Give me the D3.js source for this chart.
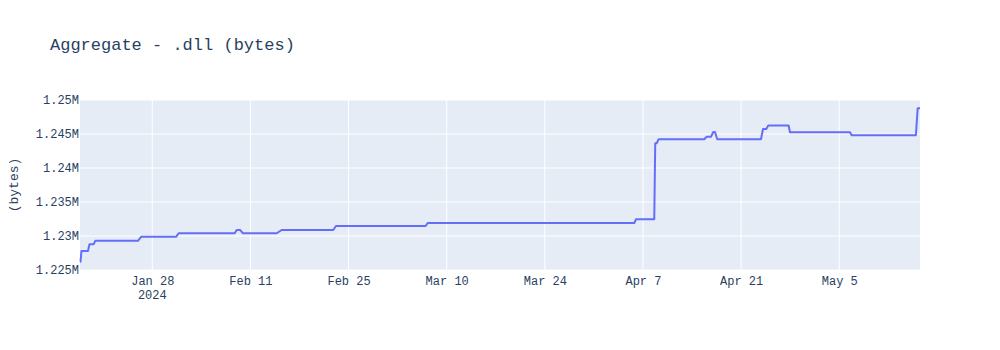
<!DOCTYPE html>
<html>
<head>
<meta charset="utf-8">
<script src="https://cdn.jsdelivr.net/npm/d3@7"></script>
<style>
  body { margin: 0; background: #fff; }
  text { font-family: "Liberation Mono", "Courier New", monospace; fill: #2a3f5f; }
</style>
</head>
<body>
<div id="chart"></div>
<script>
// Data: each flat stretch has a start and end point
const dates = [
    "2024-01-17T16:30", "2024-01-17T18:15", "2024-01-17T21:30", "2024-01-18T19:50",
    "2024-01-19T01:00", "2024-01-19T15:20", "2024-01-19T21:00", "2024-01-25T23:00",
    "2024-01-26T10:20", "2024-01-31T10:10", "2024-01-31T18:25", "2024-02-08T18:00",
    "2024-02-09T01:00", "2024-02-09T13:15", "2024-02-09T22:30", "2024-02-14T18:00",
    "2024-02-15T11:00", "2024-02-22T19:40", "2024-02-23T04:50", "2024-03-07T00:00",
    "2024-03-07T07:00", "2024-04-05T18:15", "2024-04-06T00:00", "2024-04-08T14:40",
    "2024-04-08T18:00", "2024-04-08T22:50", "2024-04-09T05:45", "2024-04-15T17:45",
    "2024-04-16T02:10", "2024-04-16T16:50", "2024-04-17T00:45", "2024-04-17T06:30",
    "2024-04-17T14:25", "2024-04-23T20:00", "2024-04-24T03:00", "2024-04-24T14:10",
    "2024-04-24T21:00", "2024-04-27T18:45", "2024-04-27T23:15", "2024-05-06T12:45",
    "2024-05-06T18:30", "2024-05-15T22:30", "2024-05-16T04:30", "2024-05-16T12:30"
];
const bytes = [
    1226220, 1226220, 1227800, 1227800,
    1228800, 1228800, 1229300, 1229300,
    1229900, 1229900, 1230400, 1230400,
    1230880, 1230880, 1230400, 1230400,
    1230880, 1230880, 1231470, 1231470,
    1231910, 1231910, 1232450, 1232450,
    1243630, 1243630, 1244220, 1244220,
    1244600, 1244600, 1245290, 1245290,
    1244220, 1244220, 1245730, 1245730,
    1246250, 1246250, 1245250, 1245250,
    1244810, 1244810, 1248770, 1248770
];
const yTicks = [1225000, 1230000, 1235000, 1240000, 1245000, 1250000];
const yTickLabels = ["1.225M", "1.23M", "1.235M", "1.24M", "1.245M", "1.25M"];
const xTicks = ["2024-01-28", "2024-02-11", "2024-02-25", "2024-03-10",
                "2024-03-24", "2024-04-07", "2024-04-21", "2024-05-05"];

const parseDate = d3.utcParse("%Y-%m-%dT%H:%M");
const parseDay = d3.utcParse("%Y-%m-%d");
const data = dates.map((d, i) => ({date: parseDate(d), value: bytes[i]}));

const margin = {top: 100, right: 80, bottom: 80, left: 80};
const width = 1000, height = 350;
const innerW = width - margin.left - margin.right;
const innerH = height - margin.top - margin.bottom;

const svg = d3.select("#chart")
    .append("svg")
    .attr("width", width)
    .attr("height", height);

// Title
svg.append("text")
    .attr("x", 50)
    .attr("y", 50)
    .attr("font-size", "17px")
    .text("Aggregate - .dll (bytes)");

const g = svg.append("g")
    .attr("transform", `translate(${margin.left},${margin.top})`);

const x = d3.scaleUtc()
    .domain(d3.extent(data, d => d.date))
    .range([0, innerW]);

const y = d3.scaleLinear()
    .domain([1225000, 1250000])
    .range([innerH, 0]);

// Plot background
g.append("rect")
    .attr("width", innerW)
    .attr("height", innerH)
    .attr("fill", "#e5ecf6");

// Gridlines
g.selectAll(".ygrid")
    .data(yTicks)
    .join("line")
    .attr("x1", 0)
    .attr("x2", innerW)
    .attr("y1", d => y(d))
    .attr("y2", d => y(d))
    .attr("stroke", "white")
    .attr("stroke-width", 1);

g.selectAll(".xgrid")
    .data(xTicks.map(parseDay))
    .join("line")
    .attr("x1", d => x(d))
    .attr("x2", d => x(d))
    .attr("y1", 0)
    .attr("y2", innerH)
    .attr("stroke", "white")
    .attr("stroke-width", 1);

// Y axis labels
const yAxis = g.append("g")
    .call(d3.axisLeft(y).tickValues(yTicks)
        .tickFormat((d, i) => yTickLabels[i])
        .tickSize(0).tickPadding(1));
yAxis.select(".domain").remove();
yAxis.selectAll("text")
    .attr("font-size", "12px")
    .attr("font-family", "Liberation Mono, Courier New, monospace")
    .attr("fill", "#2a3f5f");

// X axis labels
const fmt = d3.utcFormat("%b %-d");
const xAxis = g.append("g")
    .attr("transform", `translate(0,${innerH})`)
    .call(d3.axisBottom(x).tickValues(xTicks.map(parseDay))
        .tickFormat(fmt).tickSize(0).tickPadding(6));
xAxis.select(".domain").remove();
xAxis.selectAll("text")
    .attr("font-size", "12px")
    .attr("font-family", "Liberation Mono, Courier New, monospace")
    .attr("fill", "#2a3f5f");

// Year under the first tick
g.append("text")
    .attr("x", x(parseDay(xTicks[0])))
    .attr("y", innerH + 29)
    .attr("text-anchor", "middle")
    .attr("font-size", "12px")
    .text("2024");

// Y axis title
svg.append("text")
    .attr("transform", `translate(18,${margin.top + innerH / 2}) rotate(-90)`)
    .attr("text-anchor", "middle")
    .attr("font-size", "13px")
    .text("(bytes)");

// Line
const line = d3.line()
    .x(d => x(d.date))
    .y(d => y(d.value));

g.append("path")
    .datum(data)
    .attr("d", line)
    .attr("fill", "none")
    .attr("stroke", "#636efa")
    .attr("stroke-width", 2)
    .attr("stroke-linejoin", "round");
</script>
</body>
</html>
